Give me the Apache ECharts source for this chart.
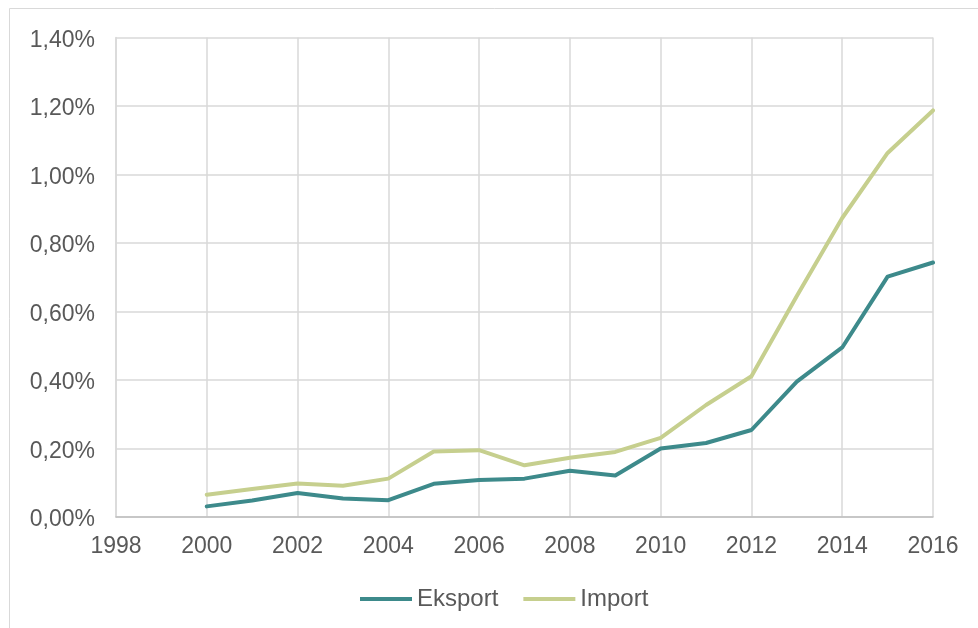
<!DOCTYPE html>
<html>
<head>
<meta charset="utf-8">
<script src="https://cdn.jsdelivr.net/npm/echarts@6/dist/echarts.min.js"></script>
<style>
  html, body { margin: 0; padding: 0; background: #fff; }
  #chart { width: 978px; height: 628px; }
</style>
</head>
<body>
<div id="chart"></div>
<script>
// Years and shares (in percent) for export and import
const years = [2000, 2001, 2002, 2003, 2004, 2005, 2006, 2007, 2008, 2009, 2010, 2011, 2012, 2013, 2014, 2015, 2016];
const eksport = [0.031, 0.048, 0.070, 0.054, 0.049, 0.097, 0.108, 0.112, 0.135, 0.121, 0.200, 0.216, 0.254, 0.395, 0.495, 0.702, 0.743];
const importVals = [0.065, 0.082, 0.098, 0.091, 0.112, 0.191, 0.195, 0.151, 0.173, 0.190, 0.231, 0.327, 0.411, 0.645, 0.873, 1.063, 1.187];
const seriesNames = ['Eksport', 'Import'];

const pairs = vals => years.map((y, i) => [y, vals[i]]);
const fontFamily = '"Liberation Sans", Arial, sans-serif';
const textColor = '#595959';

const chart = echarts.init(document.getElementById('chart'), null, { renderer: 'canvas' });
chart.setOption({
  animation: false,
  backgroundColor: '#fff',
  graphic: [{
    type: 'rect',
    shape: { x: 9.5, y: 8.5, width: 1000, height: 700 },
    style: { fill: 'none', stroke: '#d9d9d9', lineWidth: 1 },
    silent: true
  }],
  grid: { left: 116, right: 45, top: 37.5, bottom: 111, containLabel: false },
  legend: {
    data: seriesNames,
    bottom: 12,
    left: 355,
    itemWidth: 52,
    itemHeight: 4,
    itemGap: 25,
    icon: 'rect',
    textStyle: { color: textColor, fontSize: 24, fontFamily: fontFamily }
  },
  xAxis: {
    type: 'value',
    min: 1998,
    max: 2016,
    interval: 2,
    axisLine: { show: true, lineStyle: { color: '#bfbfbf', width: 1.5 } },
    axisTick: { show: false },
    splitLine: { show: true, lineStyle: { color: '#d9d9d9', width: 1.5 } },
    axisLabel: {
      color: textColor, fontSize: 23, fontFamily: fontFamily, margin: 18,
      formatter: v => String(v)
    }
  },
  yAxis: {
    type: 'value',
    min: 0,
    max: 1.4,
    interval: 0.2,
    axisLine: { show: true, lineStyle: { color: '#d9d9d9', width: 1.5 } },
    axisTick: { show: false },
    splitLine: { show: true, lineStyle: { color: '#d9d9d9', width: 1.5 } },
    axisLabel: {
      margin: 21,
      formatter: v => '{t|' + v.toFixed(2).replace('.', ',') + '%}',
      rich: {
        t: { color: textColor, fontSize: 23, fontFamily: fontFamily, padding: [6, 0, 0, 0] }
      }
    }
  },
  series: [
    {
      name: seriesNames[0],
      type: 'line',
      data: pairs(eksport),
      symbol: 'none',
      lineStyle: { color: '#3d8a8b', width: 4, cap: 'round', join: 'round' },
      itemStyle: { color: '#3d8a8b' }
    },
    {
      name: seriesNames[1],
      type: 'line',
      data: pairs(importVals),
      symbol: 'none',
      lineStyle: { color: '#c6cf8e', width: 4, cap: 'round', join: 'round' },
      itemStyle: { color: '#c6cf8e' }
    }
  ]
});
</script>
</body>
</html>
